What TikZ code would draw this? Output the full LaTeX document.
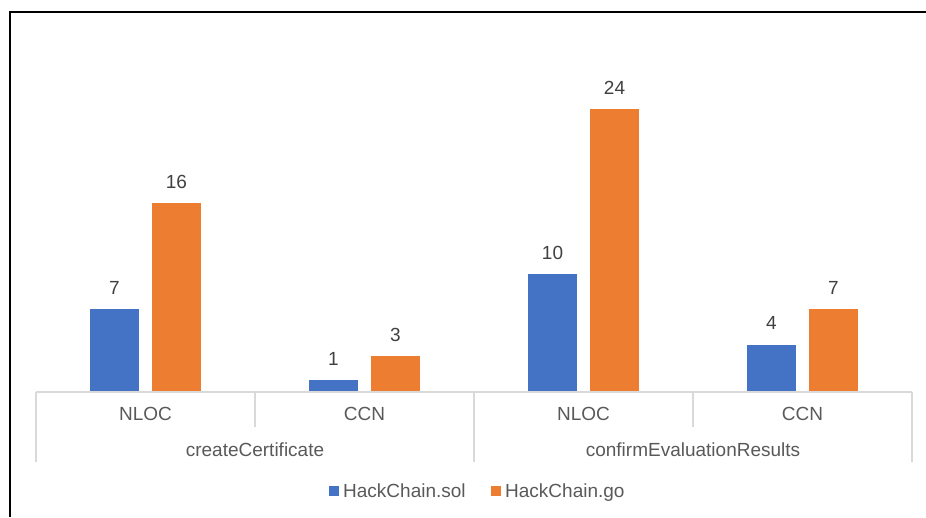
\documentclass[tikz,border=0pt]{standalone}
\usepackage{fontspec}
\setmainfont{Liberation Sans}
\definecolor{solblue}{HTML}{4472C4}
\definecolor{goorange}{HTML}{ED7D31}
\definecolor{axisgray}{HTML}{D9D9D9}
\definecolor{labelgray}{HTML}{595959}
\definecolor{valgray}{HTML}{404040}
\begin{document}
\begin{tikzpicture}[x=1pt,y=-1pt,
  txt/.style={inner sep=0pt, text=labelgray, font=\fontsize{19}{22}\selectfont},
  val/.style={inner sep=0pt, text=valgray, font=\fontsize{19}{22}\selectfont},
  bar/.style={draw=none, inner sep=0pt, anchor=south, minimum width=49pt},
  solbar/.style={bar, fill=solblue},
  gobar/.style={bar, fill=goorange},
  axisline/.style={draw=axisgray, line width=1.3pt},
  swatch/.style={inner sep=0pt, minimum size=10pt}]
\useasboundingbox (0,0) rectangle (926,517);
% outer frame
\draw[line width=2pt] (9.5,517) -- (9.5,11.5) -- (926,11.5);

% bars (11.8 px per unit)
\node[solbar, minimum height=7*11.8pt]  (s1) at (114.5,392) {};
\node[gobar,  minimum height=16*11.8pt] (g1) at (176.5,392) {};
\node[solbar, minimum height=1*11.8pt]  (s2) at (333.5,392) {};
\node[gobar,  minimum height=3*11.8pt]  (g2) at (395.5,392) {};
\node[solbar, minimum height=10*11.8pt] (s3) at (552.5,392) {};
\node[gobar,  minimum height=24*11.8pt] (g3) at (614.5,392) {};
\node[solbar, minimum height=4*11.8pt]  (s4) at (771.5,392) {};
\node[gobar,  minimum height=7*11.8pt]  (g4) at (833.5,392) {};

% value labels
\node[val] (vs1) at ([yshift=21pt]s1.north) {7};
\node[val] (vg1) at ([yshift=21pt]g1.north) {16};
\node[val] (vs2) at ([yshift=21pt]s2.north) {1};
\node[val] (vg2) at ([yshift=21pt]g2.north) {3};
\node[val] (vs3) at ([yshift=21pt]s3.north) {10};
\node[val] (vg3) at ([yshift=21pt]g3.north) {24};
\node[val] (vs4) at ([yshift=21pt]s4.north) {4};
\node[val] (vg4) at ([yshift=21pt]g4.north) {7};

% category axis
\coordinate (a0) at (36,392);
\coordinate (a4) at (912,392);
\draw[axisline] (a0) -- (a4);
\draw[axisline] (36,392) -- (36,462);
\draw[axisline] (255,392) -- (255,427);
\draw[axisline] (474,392) -- (474,462);
\draw[axisline] (693,392) -- (693,427);
\draw[axisline] (912,392) -- (912,462);

% category labels
\node[txt] (c1) at (145.5,414) {NLOC};
\node[txt] (c2) at (364.5,414) {CCN};
\node[txt] (c3) at (583.5,414) {NLOC};
\node[txt] (c4) at (802.5,414) {CCN};
\node[txt] (grp1) at (255,450) {createCertificate};
\node[txt] (grp2) at (693,450) {confirmEvaluationResults};

% legend
\node[swatch, fill=solblue] (ks) at (334,491) {};
\node[txt, anchor=base west] (ls) at (343,497.8) {HackChain.sol};
\node[swatch, fill=goorange] (kg) at (496,491) {};
\node[txt, anchor=base west] (lg) at (505,497.8) {HackChain.go};
\end{tikzpicture}
\end{document}
